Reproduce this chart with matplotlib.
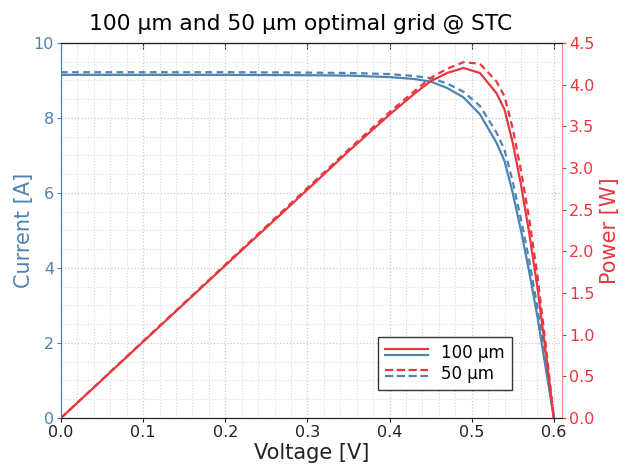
import numpy as np
import matplotlib
matplotlib.use("Agg")
import matplotlib.pyplot as plt
import matplotlib.transforms as mtransforms
from matplotlib.lines import Line2D
from matplotlib.legend_handler import HandlerBase
from matplotlib.ticker import MultipleLocator, FormatStrFormatter

# IV / PV data
voltage = [0.0, 0.1, 0.2, 0.3, 0.35, 0.40, 0.43, 0.45, 0.47, 0.49, 0.51,
           0.53, 0.54, 0.55, 0.56, 0.57, 0.58, 0.59, 0.60]
current_100 = [9.15, 9.15, 9.15, 9.14, 9.13, 9.09, 9.04, 8.97, 8.80, 8.55, 8.10,
               7.35, 6.85, 6.00, 5.00, 3.90, 2.70, 1.35, 0.0]
current_50 = [9.22, 9.22, 9.22, 9.21, 9.20, 9.17, 9.12, 9.06, 8.92, 8.70, 8.32,
              7.62, 7.15, 6.30, 5.30, 4.20, 2.95, 1.50, 0.0]
power_100 = [0.0, 0.915, 1.83, 2.74, 3.20, 3.64, 3.89, 4.04, 4.14, 4.20, 4.14,
             3.90, 3.70, 3.30, 2.80, 2.22, 1.57, 0.80, 0.0]
power_50 = [0.0, 0.922, 1.84, 2.76, 3.22, 3.67, 3.92, 4.08, 4.19, 4.27, 4.25,
            4.04, 3.86, 3.47, 2.97, 2.39, 1.71, 0.89, 0.0]

blue = "#4f83b3"
red = "#e8383f"


class StackedLines(HandlerBase):
    # draws the red and blue line of one case stacked above each other
    def create_artists(self, legend, orig_handle, xdescent, ydescent,
                       width, height, fontsize, trans):
        arts = []
        for i, ln in enumerate(orig_handle):
            y = -ydescent + height / 2 + (2.0 if i == 0 else -2.0)
            a = Line2D([-xdescent, -xdescent + width], [y, y],
                       color=ln.get_color(), linestyle=ln.get_linestyle(),
                       linewidth=ln.get_linewidth(), transform=trans)
            arts.append(a)
        return arts


fig = plt.figure(figsize=(6.33, 4.67), dpi=100)
ax = fig.add_axes([0.0964, 0.105, 0.7915, 0.803])
ax2 = ax.twinx()

l1, = ax.plot(voltage, current_100, color=blue, lw=1.6)
l2, = ax.plot(voltage, current_50, color=blue, lw=1.6, ls=(0, (3, 2)))
p1, = ax2.plot(voltage, power_100, color=red, lw=1.6)
p2, = ax2.plot(voltage, power_50, color=red, lw=1.6, ls=(0, (3, 2)))

ax.set_xlim(0, 0.61)
ax.set_ylim(0, 10)
ax2.set_ylim(0, 4.5)

ax.xaxis.set_major_locator(MultipleLocator(0.1))
ax.xaxis.set_minor_locator(MultipleLocator(0.02))
ax.yaxis.set_major_locator(MultipleLocator(2))
ax.yaxis.set_minor_locator(MultipleLocator(0.5))
ax2.yaxis.set_major_locator(MultipleLocator(0.5))
ax.xaxis.set_major_formatter(FormatStrFormatter("%.1f"))

ax.grid(which="major", ls=":", color="#bfcad6", lw=0.9)
ax.grid(which="minor", ls=":", color="#d6d9dc", lw=0.8)
ax.set_axisbelow(True)

ax.tick_params(axis="x", which="major", labelsize=11.5, colors="#222222",
               length=3, pad=2)
ax.tick_params(axis="x", which="minor", length=0)
ax.tick_params(axis="y", which="major", labelsize=11.5, colors=blue,
               length=3, pad=2)
ax.tick_params(axis="y", which="minor", length=0)
ax2.tick_params(axis="y", which="major", labelsize=11.5, colors=red,
                length=3, pad=2)

top = ax.secondary_xaxis("top")
top.xaxis.set_major_locator(MultipleLocator(0.1))
top.tick_params(direction="in", length=4, labeltop=False, colors="#222222")

for a in (ax, ax2):
    a.spines["top"].set_color("#222222")
    a.spines["bottom"].set_color("#222222")
    a.spines["left"].set_color(blue)
    a.spines["right"].set_color("#f08a8d")

# first labels are nudged away from the corner, as in the reference
fig.canvas.draw()
xl0 = ax.get_xticklabels()[0]
xl0.set_transform(xl0.get_transform() +
                  mtransforms.ScaledTranslation(8 / 100, 0, fig.dpi_scale_trans))
yl0 = ax.get_yticklabels()[0]
yl0.set_transform(yl0.get_transform() +
                  mtransforms.ScaledTranslation(0, 5 / 100, fig.dpi_scale_trans))

ax.set_xlabel("Voltage [V]", fontsize=15, color="#222222", labelpad=2)
ax.set_ylabel("Current [A]", fontsize=15, color=blue, labelpad=0)
ax2.set_ylabel("Power [W]", fontsize=15, color=red, labelpad=4)
ax.set_title("100 µm and 50 µm optimal grid @ STC", fontsize=15.7,
             x=0.478, pad=9)

leg = ax2.legend([(p1, l1), (p2, l2)], ["100 µm", "50 µm"],
                 handler_map={tuple: StackedLines()},
                 loc="lower right", bbox_to_anchor=(0.916, 0.053),
                 fontsize=12, fancybox=False, framealpha=1,
                 edgecolor="#333333", handlelength=2.6, labelspacing=0.2,
                 borderpad=0.4)
leg.get_frame().set_linewidth(1.0)

fig.savefig("out.png", dpi=100)
